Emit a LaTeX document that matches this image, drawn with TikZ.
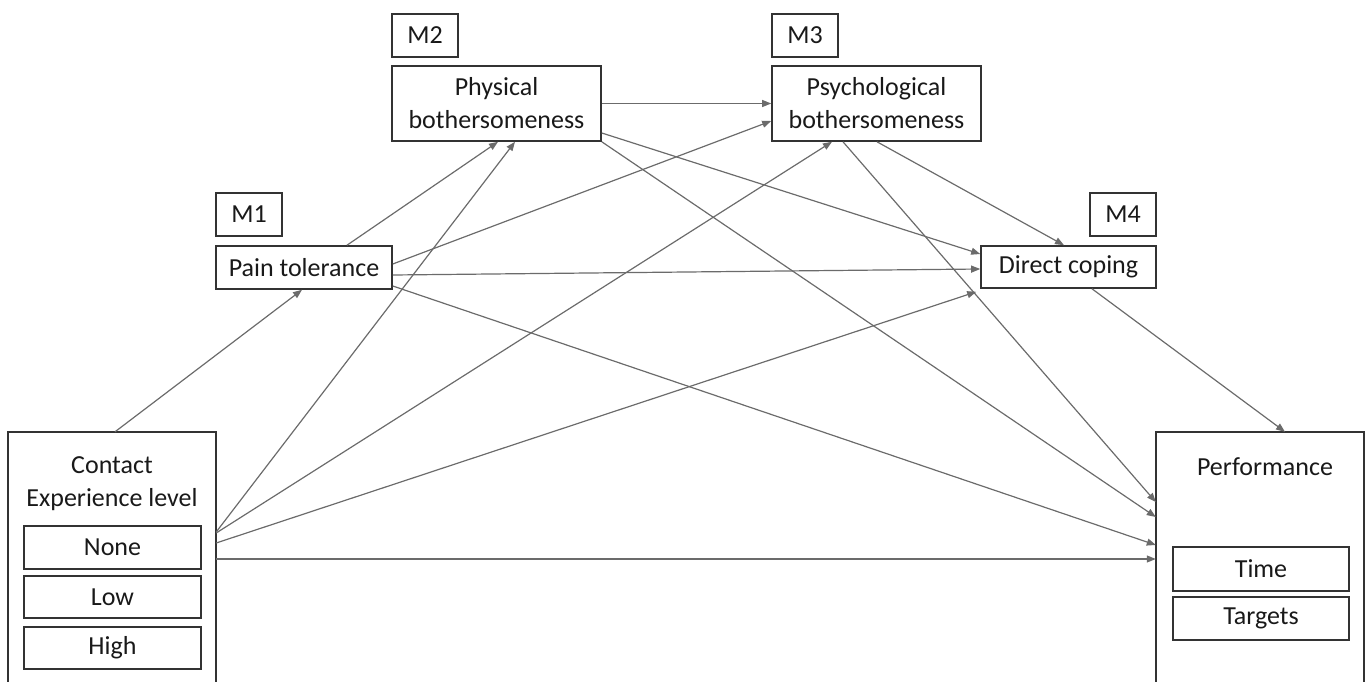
\documentclass[tikz,border=0pt]{standalone}
\usepackage{fontspec}
\setmainfont{Carlito}
\usetikzlibrary{arrows.meta}
\begin{document}
\begin{tikzpicture}[x=1pt,y=-1pt,
  box/.style={draw=black!80, line width=1.6pt, rectangle, inner sep=0pt, align=center,
    font=\fontsize{26}{33}\selectfont, text=black!90},
  plain/.style={inner sep=0pt, align=center, font=\fontsize{26}{33}\selectfont, text=black!90},
  conn/.style={draw=black!58, line width=1.2pt, -{Triangle[length=9pt,width=7pt]}}]
\useasboundingbox (0,0) rectangle (1371,682);
% mediators
\node[box, minimum width=176pt, minimum height=43pt] (pt) at (304,267.5) {Pain tolerance};
\node[box, minimum width=66pt, minimum height=43pt] (m1) at (249,214.5) {M1};
\node[box, minimum width=209pt, minimum height=75pt] (phys) at (496.5,103.5) {Physical\\bothersomeness};
\node[box, minimum width=66pt, minimum height=43pt] (m2) at (425,35.5) {M2};
\node[box, minimum width=209pt, minimum height=75pt] (psych) at (876.5,103.5) {Psychological\\bothersomeness};
\node[box, minimum width=66pt, minimum height=43pt] (m3) at (805,35.5) {M3};
\node[box, minimum width=175pt, minimum height=42pt] (dc) at (1068.5,267) {Direct coping};
\node[box, minimum width=66pt, minimum height=43pt] (m4) at (1123,214.5) {M4};
% contact box (open at bottom)
\node[inner sep=0pt, minimum width=208pt, minimum height=250pt] (contact) at (112,557) {};
\draw[draw=black!80, line width=1.6pt] (contact.south west) |- (contact.north east) -- (contact.south east);
\node[plain] (ctext) at (112,484) {Contact\\Experience level};
\node[box, minimum width=177pt, minimum height=43pt] (none) at (112.5,547.5) {None};
\node[box, minimum width=177pt, minimum height=42pt] (low) at (112.5,597) {Low};
\node[box, minimum width=177pt, minimum height=42pt] (high) at (112.5,648) {High};
% performance box (open at bottom)
\node[inner sep=0pt, minimum width=208pt, minimum height=250pt] (perf) at (1260,557) {};
\draw[draw=black!80, line width=1.6pt] (perf.south west) |- (perf.north east) -- (perf.south east);
\node[plain] (ptext) at (1265,467) {Performance};
\node[box, minimum width=176pt, minimum height=44pt] (time) at (1261,569) {Time};
\node[box, minimum width=176pt, minimum height=43pt] (targets) at (1261,618.5) {Targets};
% connectors
\draw[conn] ([xshift=3pt]contact.north) -- ([xshift=-2pt]pt.south);
\draw[conn] ([yshift=25pt]contact.east) -- ([xshift=18.5pt]phys.south);
\draw[conn] ([yshift=24pt]contact.east) -- ([xshift=-44.5pt]psych.south);
\draw[conn] ([yshift=14pt]contact.east) -- ([xshift=-4pt,yshift=-3pt]dc.south west);
\draw[conn] ([yshift=-2pt]contact.east) -- ([yshift=-2pt]perf.west);
\draw[conn] ([xshift=43pt]pt.north) -- ([xshift=1.5pt]phys.south);
\draw[conn] ([yshift=3.5pt]pt.east) -- ([yshift=-17.5pt]psych.west);
\draw[conn] ([yshift=-7.5pt]pt.east) -- ([yshift=-2pt]dc.west);
\draw[conn] ([yshift=-18.5pt]pt.east) -- ([yshift=12pt]perf.west);
\draw[conn] (phys.east) -- (psych.west);
\draw[conn] ([yshift=-29.5pt]phys.east) -- ([yshift=13pt]dc.west);
\draw[conn] (phys.south east) -- ([yshift=40pt]perf.west);
\draw[conn] ([xshift=-33.5pt]psych.south) -- ([yshift=55pt]perf.west);
\draw[conn] ([xshift=0.5pt]psych.south) -- ([xshift=-4.5pt]dc.north);
\draw[conn] ([xshift=23.5pt]dc.south) -- ([xshift=25pt]perf.north);
\end{tikzpicture}
\end{document}
